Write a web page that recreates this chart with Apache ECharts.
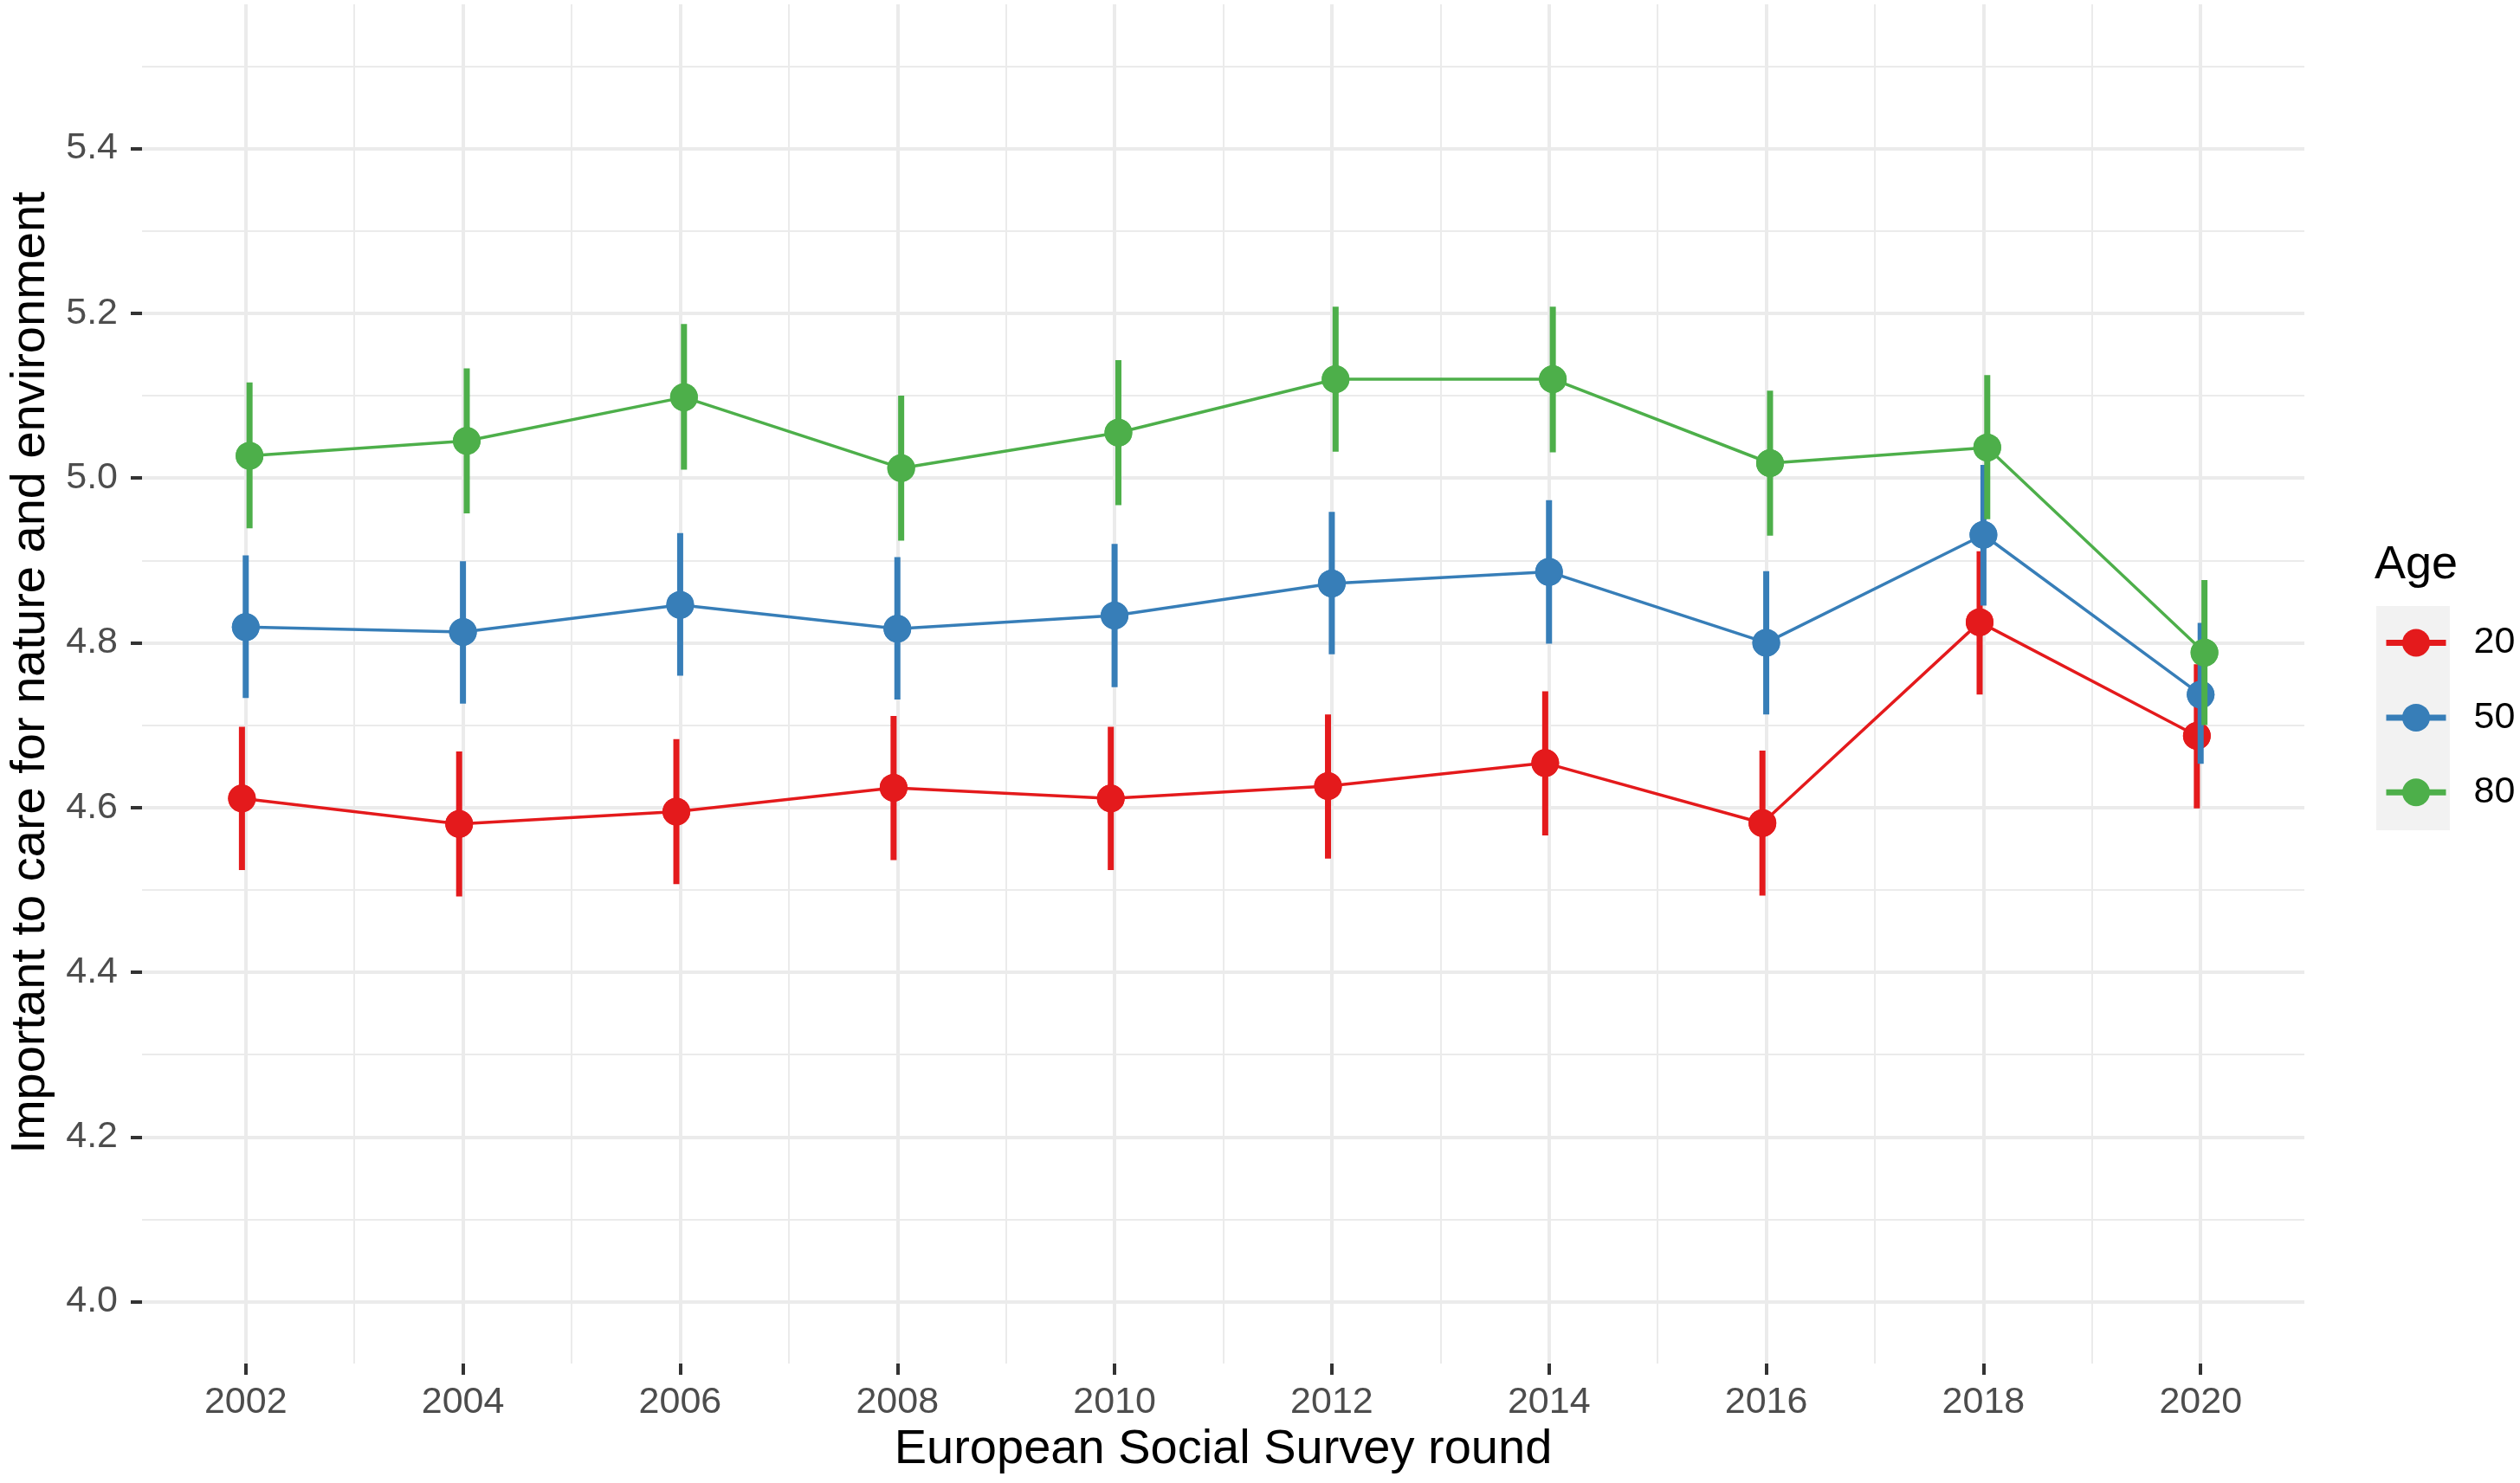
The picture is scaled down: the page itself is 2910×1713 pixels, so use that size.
<!DOCTYPE html>
<html><head><meta charset="utf-8">
<script src="https://cdn.jsdelivr.net/npm/echarts@6/dist/echarts.min.js"></script>
<style>html,body{margin:0;padding:0;background:#fff}#c{width:2910px;height:1713px}</style>
</head><body><div id="c"></div>
<script>
// ---- data ----
const years = [2002, 2004, 2006, 2008, 2010, 2012, 2014, 2016, 2018, 2020];
const groups = ['20', '50', '80'];
const mean20  = [4.611, 4.580, 4.595, 4.624, 4.611, 4.626, 4.654, 4.581, 4.825, 4.687];
const lower20 = [4.524, 4.492, 4.507, 4.536, 4.524, 4.538, 4.566, 4.493, 4.737, 4.599];
const upper20 = [4.698, 4.668, 4.683, 4.711, 4.698, 4.713, 4.741, 4.669, 4.911, 4.774];
const mean50  = [4.819, 4.813, 4.846, 4.817, 4.833, 4.872, 4.886, 4.800, 4.931, 4.737];
const lower50 = [4.733, 4.726, 4.760, 4.731, 4.746, 4.786, 4.799, 4.713, 4.845, 4.653];
const upper50 = [4.906, 4.899, 4.933, 4.904, 4.920, 4.959, 4.973, 4.887, 5.016, 4.824];
const mean80  = [5.027, 5.045, 5.098, 5.012, 5.055, 5.120, 5.120, 5.018, 5.037, 4.788];
const lower80 = [4.939, 4.957, 5.010, 4.924, 4.967, 5.032, 5.031, 4.930, 4.950, 4.700];
const upper80 = [5.116, 5.133, 5.187, 5.100, 5.143, 5.208, 5.208, 5.106, 5.125, 4.876];
const yTicks = [4.0, 4.2, 4.4, 4.6, 4.8, 5.0, 5.2, 5.4];
const yMinorTicks = [4.1, 4.3, 4.5, 4.7, 4.9, 5.1, 5.3, 5.5];
const xTicks = [2002, 2004, 2006, 2008, 2010, 2012, 2014, 2016, 2018, 2020];
const xMinorTicks = [2003, 2005, 2007, 2009, 2011, 2013, 2015, 2017, 2019];

// ---- styling ----
const FONT = '"Liberation Sans", Arial, sans-serif';
const colors = {'20': '#E41A1C', '50': '#377EB8', '80': '#4DAF4A'};
const dodge = {'20': -0.035, '50': 0, '80': 0.035};
const stats = {
  '20': [mean20, lower20, upper20],
  '50': [mean50, lower50, upper50],
  '80': [mean80, lower80, upper80]
};
const X_MIN = 2001.045, X_MAX = 2020.955, Y_MIN = 3.925, Y_MAX = 5.575;

const lineSeries = groups.map(g => ({
  name: g, type: 'line', xAxisIndex: 0, yAxisIndex: 0,
  data: years.map((yr, i) => [yr + dodge[g], stats[g][0][i]]),
  symbol: 'circle', symbolSize: 32, showSymbol: true,
  itemStyle: {color: colors[g]},
  lineStyle: {color: colors[g], width: 3.5},
  emphasis: {disabled: true}, silent: true, animation: false, z: 2
}));

const rangeSeries = groups.map(g => ({
  name: g + ' range', type: 'custom', xAxisIndex: 0, yAxisIndex: 0,
  data: years.map((yr, i) => [yr + dodge[g], stats[g][1][i], stats[g][2][i], stats[g][0][i]]),
  renderItem: function (params, api) {
    const lo = api.coord([api.value(0), api.value(1)]);
    const hi = api.coord([api.value(0), api.value(2)]);
    const c = api.coord([api.value(0), api.value(3)]);
    return {
      type: 'group',
      children: [
        {type: 'line', shape: {x1: lo[0], y1: lo[1], x2: hi[0], y2: hi[1]},
         style: {stroke: colors[g], lineWidth: 7}},
        {type: 'circle', shape: {cx: c[0], cy: c[1], r: 16},
         style: {fill: colors[g]}}
      ]
    };
  },
  encode: {x: 0, y: [1, 2, 3]},
  silent: true, animation: false, z: 3
}));

const chart = echarts.init(document.getElementById('c'), null, {renderer: 'canvas'});
chart.setOption({
  backgroundColor: '#ffffff',
  animation: false,
  textStyle: {fontFamily: FONT},
  grid: {left: 155, top: 5, width: 2506, height: 1570, containLabel: false},
  xAxis: [
    {
      type: 'value', min: X_MIN, max: X_MAX,
      name: 'European Social Survey round', nameLocation: 'middle', nameGap: 72,
      nameTextStyle: {fontSize: 56, color: '#000', fontFamily: FONT},
      axisLine: {show: false},
      axisTick: {show: true, length: 13, inside: false, customValues: xTicks,
                 lineStyle: {color: '#333333', width: 4}},
      axisLabel: {show: true, customValues: xTicks, fontSize: 43, color: '#4D4D4D',
                  margin: 24, fontFamily: FONT, formatter: v => String(Math.round(v))},
      splitLine: {show: true, lineStyle: {color: '#EBEBEB', width: 4}},
      minorSplitLine: {show: false}
    },
    {
      type: 'value', min: X_MIN, max: X_MAX, position: 'top',
      axisLine: {show: false}, axisLabel: {show: false},
      axisTick: {show: false, customValues: xMinorTicks},
      splitLine: {show: true, lineStyle: {color: '#EBEBEB', width: 2}}
    }
  ],
  yAxis: [
    {
      type: 'value', min: Y_MIN, max: Y_MAX,
      name: 'Important to care for nature and environment', nameLocation: 'middle', nameGap: 100,
      nameTextStyle: {fontSize: 56, color: '#000', fontFamily: FONT, padding: [0, 0, 0, 26]},
      axisLine: {show: false},
      axisTick: {show: true, length: 13, customValues: yTicks,
                 lineStyle: {color: '#333333', width: 4}},
      axisLabel: {show: true, customValues: yTicks, fontSize: 43, color: '#4D4D4D',
                  margin: 28, fontFamily: FONT, formatter: v => v.toFixed(1)},
      splitLine: {show: true, lineStyle: {color: '#EBEBEB', width: 4}}
    },
    {
      type: 'value', min: Y_MIN, max: Y_MAX, position: 'right',
      axisLine: {show: false}, axisLabel: {show: false},
      axisTick: {show: false, customValues: yMinorTicks},
      splitLine: {show: true, lineStyle: {color: '#EBEBEB', width: 2}}
    }
  ],
  legend: {
    data: groups, orient: 'vertical', left: 2752, top: 721, padding: 0,
    itemWidth: 69, itemHeight: 40, itemGap: 43.4,
    lineStyle: {width: 7},
    textStyle: {fontSize: 43, color: '#000', fontFamily: FONT, padding: [0, 0, 0, 27]},
    selectedMode: false
  },
  graphic: [
    {type: 'rect', z: 0, shape: {x: 2744, y: 700, width: 85, height: 259}, style: {fill: '#F2F2F2'}},
    {type: 'text', z: 5, x: 2742, y: 680, style: {text: 'Age', fontSize: 54, fill: '#000',
      fontFamily: FONT, verticalAlign: 'bottom'}}
  ],
  series: [].concat(lineSeries, rangeSeries)
});
</script>
</body></html>
